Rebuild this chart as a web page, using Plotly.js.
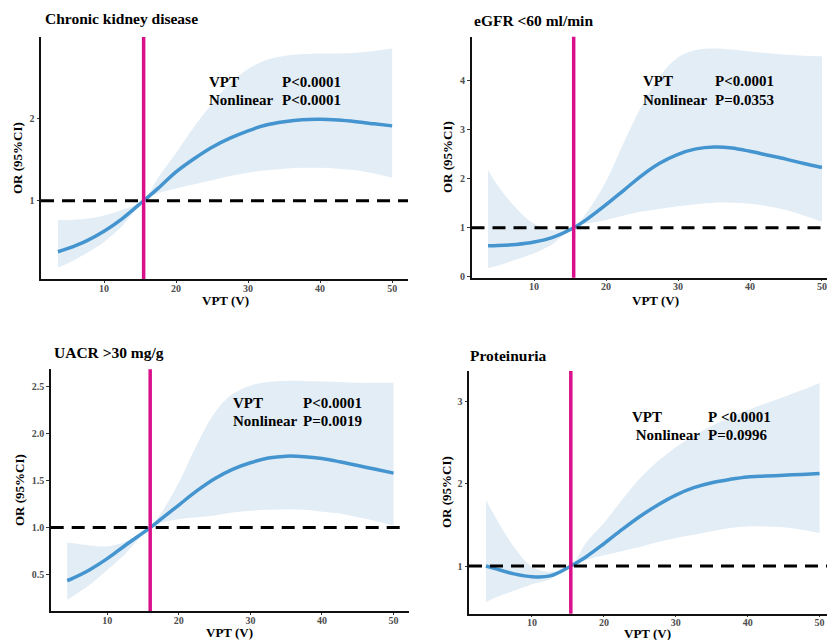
<!DOCTYPE html>
<html>
<head>
<meta charset="utf-8">
<script src="https://cdn.plot.ly/plotly-3.0.1.min.js"></script>
<style>html,body{margin:0;padding:0;background:#fff;}#chart{width:827px;height:640px;}</style>
</head>
<body>
<div id="chart"></div>
<script>
// ---------- data ----------
const panelTitles = ["Chronic kidney disease", "eGFR <60 ml/min", "UACR >30 mg/g", "Proteinuria"];
const statLabels = [["VPT", "Nonlinear"], ["VPT", "Nonlinear"], ["VPT", "Nonlinear"], ["VPT", " Nonlinear"]];
const statValues = [["P<0.0001", "P<0.0001"], ["P<0.0001", "P=0.0353"], ["P<0.0001", "P=0.0019"], ["P <0.0001", "P=0.0996"]];
const xTitle = "VPT (V)";
const yTitle = "OR (95%CI)";
const refOR = 1;
const vptCut = [15.5, 15.5, 16.0, 15.4];

const xTicks = [10, 20, 30, 40, 50];
const yTicks1 = [1, 2];
const yTicks2 = [0, 1, 2, 3, 4];
const yTicks3 = [0.5, 1.0, 1.5, 2.0, 2.5];
const yTickText3 = ["0.5", "1.0", "1.5", "2.0", "2.5"];
const yTicks4 = [1, 2, 3];

// Chronic kidney disease
const x1  = [3.6, 5, 7.5, 10, 12.5, 15.5, 17.5, 20, 22.5, 25, 27.5, 30, 32.5, 35, 37.5, 40, 42.5, 45, 47.5, 50];
const or1 = [0.38, 0.42, 0.51, 0.63, 0.78, 1.0, 1.15, 1.35, 1.51, 1.65, 1.76, 1.85, 1.92, 1.96, 1.985, 1.99, 1.98, 1.96, 1.935, 1.91];
const lo1 = [0.19, 0.24, 0.36, 0.50, 0.69, 1.0, 1.09, 1.15, 1.20, 1.25, 1.30, 1.34, 1.37, 1.39, 1.40, 1.40, 1.39, 1.37, 1.33, 1.28];
const hi1 = [0.765, 0.765, 0.78, 0.82, 0.89, 1.0, 1.28, 1.58, 1.90, 2.18, 2.43, 2.60, 2.71, 2.76, 2.78, 2.79, 2.79, 2.80, 2.82, 2.85];

// eGFR <60 ml/min
const x2  = [3.6, 5, 7.5, 10, 12.5, 15.5, 17.5, 20, 22.5, 25, 27.5, 30, 32.5, 35, 37.5, 40, 42.5, 45, 47.5, 50];
const or2 = [0.63, 0.635, 0.66, 0.71, 0.80, 1.0, 1.19, 1.47, 1.77, 2.07, 2.32, 2.50, 2.61, 2.65, 2.63, 2.56, 2.48, 2.40, 2.31, 2.23];
const lo2 = [0.18, 0.23, 0.35, 0.48, 0.66, 1.0, 1.09, 1.16, 1.25, 1.33, 1.39, 1.44, 1.48, 1.51, 1.51, 1.49, 1.44, 1.36, 1.25, 1.12];
const hi2 = [2.18, 1.85, 1.40, 1.08, 0.95, 1.0, 1.35, 1.95, 2.75, 3.5, 4.1, 4.48, 4.63, 4.66, 4.64, 4.60, 4.56, 4.53, 4.51, 4.50];

// UACR >30 mg/g
const x3  = [4.4, 5, 7.5, 10, 12.5, 16, 17.5, 20, 22.5, 25, 27.5, 30, 32.5, 35, 37.5, 40, 42.5, 45, 47.5, 50];
const or3 = [0.436, 0.455, 0.55, 0.67, 0.81, 1.0, 1.09, 1.24, 1.39, 1.52, 1.62, 1.69, 1.74, 1.76, 1.755, 1.735, 1.70, 1.66, 1.62, 1.58];
const lo3 = [0.23, 0.26, 0.39, 0.55, 0.72, 1.0, 1.05, 1.09, 1.11, 1.13, 1.16, 1.18, 1.19, 1.195, 1.19, 1.17, 1.15, 1.11, 1.07, 1.02];
const hi3 = [0.84, 0.835, 0.81, 0.80, 0.85, 1.0, 1.15, 1.48, 1.88, 2.22, 2.42, 2.51, 2.55, 2.56, 2.56, 2.555, 2.55, 2.54, 2.54, 2.54];

// Proteinuria
const x4  = [3.6, 5, 7.5, 10, 12.5, 15.4, 17.5, 20, 22.5, 25, 27.5, 30, 32.5, 35, 37.5, 40, 42.5, 45, 47.5, 50];
const or4 = [1.0, 0.965, 0.905, 0.87, 0.88, 1.0, 1.11, 1.27, 1.44, 1.60, 1.74, 1.86, 1.95, 2.01, 2.05, 2.08, 2.09, 2.10, 2.11, 2.12];
const lo4 = [0.56, 0.62, 0.70, 0.78, 0.84, 1.0, 1.07, 1.13, 1.18, 1.23, 1.29, 1.34, 1.38, 1.42, 1.46, 1.48, 1.48, 1.47, 1.44, 1.40];
const hi4 = [1.8, 1.58, 1.23, 0.99, 0.93, 1.0, 1.28, 1.52, 1.80, 2.06, 2.27, 2.44, 2.58, 2.70, 2.80, 2.89, 2.97, 3.05, 3.13, 3.22];

// ---------- layout helpers ----------
const W = 827, H = 640;
const fx = p => p / W;
const fy = p => 1 - p / H;

const series = [
  {x: x1, or: or1, lo: lo1, hi: hi1},
  {x: x2, or: or2, lo: lo2, hi: hi2},
  {x: x3, or: or3, lo: lo3, hi: hi3},
  {x: x4, or: or4, lo: lo4, hi: hi4}
];
const yTickSets = [
  {vals: yTicks1, text: yTicks1.map(String)},
  {vals: yTicks2, text: yTicks2.map(String)},
  {vals: yTicks3, text: yTickText3},
  {vals: yTicks4, text: yTicks4.map(String)}
];

// pixel geometry of each panel
const geo = [
  {l: 41, r: 408, t: 37, b: 279, xr: [1.25, 52.2], yr: [0.049, 2.99], dashEnd: 1,
   title: [44, 19], stat: [208, 82, 281, 100], ytl: [18, 158], xtl: [225, 300]},
  {l: 471.5, r: 827, t: 36.7, b: 277.7, xr: [1.3, 50.7], yr: [-0.02, 4.9], dashEnd: 1,
   title: [473, 20], stat: [642, 81, 714, 99.5], ytl: [33 + 414, 157], xtl: [655, 300]},
  {l: 50.7, r: 409.3, t: 369.3, b: 611, xr: [2.1, 52.2], yr: [0.113, 2.684], dashEnd: 0.98,
   title: [53, 352], stat: [232, 403, 301.5, 421], ytl: [19, 490], xtl: [230, 632]},
  {l: 469, r: 827, t: 371, b: 613.7, xr: [1.24, 51.03], yr: [0.422, 3.364], dashEnd: 1,
   title: [469, 355], stat: [631, 416.5, 707, 434.5], ytl: [32 + 414, 492], xtl: [647, 633]}
];

const blue = "#4495CF";
const ribbon = "#E3EDF6";
const magenta = "#DA108B";
const serif = "Liberation Serif";
const tickFont = {family: serif, size: 10, color: "#4D4D4D", weight: "bold"};

const data = [];
const layout = {
  width: W, height: H,
  margin: {l: 0, r: 0, t: 0, b: 0},
  paper_bgcolor: "#fff", plot_bgcolor: "rgba(0,0,0,0)",
  showlegend: false,
  font: {family: serif},
  shapes: [], annotations: []
};

series.forEach((s, i) => {
  const suf = i === 0 ? "" : String(i + 1);
  const xa = "x" + suf, ya = "y" + suf;
  const g = geo[i];
  data.push({x: s.x, y: s.lo, xaxis: xa, yaxis: ya, mode: "lines",
    line: {width: 0, shape: "spline", smoothing: 1}, hoverinfo: "skip"});
  data.push({x: s.x, y: s.hi, xaxis: xa, yaxis: ya, mode: "lines", fill: "tonexty",
    fillcolor: ribbon, line: {width: 0, shape: "spline", smoothing: 1}, hoverinfo: "skip"});
  data.push({x: s.x, y: s.or, xaxis: xa, yaxis: ya, mode: "lines",
    line: {color: blue, width: 3.5, shape: "spline", smoothing: 1}});

  layout["xaxis" + suf] = {
    domain: [fx(g.l), fx(g.r)], range: g.xr, anchor: ya,
    showline: true, linecolor: "#111", linewidth: 2,
    ticks: "outside", ticklen: 1.5, tickwidth: 1, tickcolor: "#333",
    ticklabelstandoff: -3,
    tickvals: xTicks, ticktext: xTicks.map(String), tickfont: tickFont,
    showgrid: false, zeroline: false
  };
  layout["yaxis" + suf] = {
    domain: [fy(g.b), fy(g.t)], range: g.yr, anchor: xa,
    showline: true, linecolor: "#111", linewidth: 2,
    ticks: "outside", ticklen: 2.5, tickwidth: 1, tickcolor: "#333",
    tickvals: yTickSets[i].vals, ticktext: yTickSets[i].text, tickfont: tickFont,
    showgrid: false, zeroline: false
  };

  layout.shapes.push({type: "line", xref: xa + " domain", yref: ya,
    x0: 0, x1: g.dashEnd, y0: refOR, y1: refOR,
    line: {color: "#000", width: 3, dash: "13px,8px"}, layer: "above"});
  layout.shapes.push({type: "line", xref: xa, yref: ya + " domain",
    x0: vptCut[i], x1: vptCut[i], y0: 0, y1: 1,
    line: {color: magenta, width: 3.5}, layer: "above"});

  // panel title
  layout.annotations.push({xref: "paper", yref: "paper", x: fx(g.title[0]), y: fy(g.title[1]),
    xanchor: "left", yanchor: "middle", showarrow: false, borderpad: 0,
    text: "<b>" + panelTitles[i] + "</b>", font: {family: serif, size: 15.5, color: "#000"}});
  // stats
  const st = g.stat;
  [[statLabels[i][0], st[0], st[1]], [statValues[i][0], st[2], st[1]],
   [statLabels[i][1], st[0], st[3]], [statValues[i][1], st[2], st[3]]].forEach(a => {
    layout.annotations.push({xref: "paper", yref: "paper", x: fx(a[1]), y: fy(a[2]),
      xanchor: "left", yanchor: "middle", showarrow: false, borderpad: 0,
      text: "<b>" + a[0].replace(/ /g, "&nbsp;") + "</b>", font: {family: serif, size: 15, color: "#000"}});
  });
  // axis titles
  layout.annotations.push({xref: "paper", yref: "paper", x: fx(g.ytl[0]), y: fy(g.ytl[1]),
    xanchor: "center", yanchor: "middle", showarrow: false, textangle: -90, borderpad: 0,
    text: "<b>" + yTitle + "</b>", font: {family: serif, size: 13, color: "#000"}});
  layout.annotations.push({xref: "paper", yref: "paper", x: fx(g.xtl[0]), y: fy(g.xtl[1]),
    xanchor: "center", yanchor: "middle", showarrow: false, borderpad: 0,
    text: "<b>" + xTitle + "</b>", font: {family: serif, size: 13, color: "#000"}});
});

Plotly.newPlot("chart", data, layout, {staticPlot: true, displayModeBar: false});
</script>
</body>
</html>
